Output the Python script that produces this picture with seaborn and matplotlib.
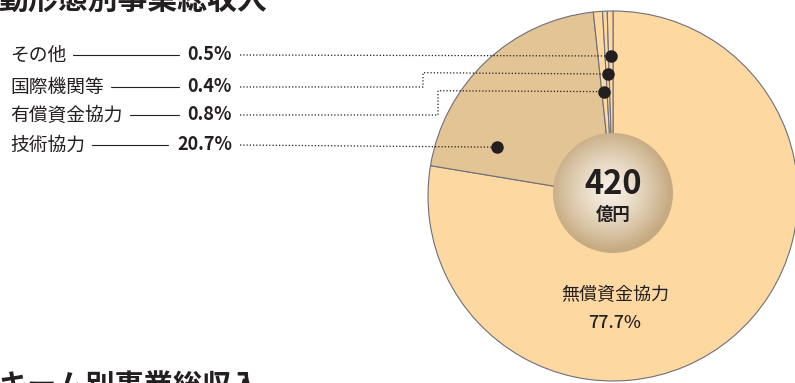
import numpy as np
import matplotlib
matplotlib.use("Agg")
import matplotlib.pyplot as plt
from matplotlib.patches import Circle
import seaborn as sns

# Revenue share by scheme (%), total 420 (億円)
categories = ["無償資金協力", "技術協力", "有償資金協力", "国際機関等", "その他"]
shares = [77.7, 20.7, 0.8, 0.4, 0.5]
total_label = "420"
total_unit = "億円"
legend_order = ["その他", "国際機関等", "有償資金協力", "技術協力"]

sns.set_theme(style="white")
plt.rcParams["font.family"] = ["Noto Sans CJK JP", "DejaVu Sans"]

W, H = 795, 383
fig = plt.figure(figsize=(W / 100, H / 100), dpi=100)
fig.patch.set_facecolor("white")
ax = fig.add_axes([0, 0, 1, 1])

def Y(y):
    return H - y

ink = "#231f20"
light = "#fdd8a1"
tan = "#e3c495"
edge = "#6e6f7c"

cx, cy, R = 613, 196, 185
colors = [light, tan, light, light, light]
wedges, _ = ax.pie(shares, startangle=90, counterclock=False, colors=colors,
                   radius=R, center=(cx, Y(cy)),
                   wedgeprops=dict(edgecolor=edge, linewidth=0.8))
ax.set_xlim(0, W)
ax.set_ylim(0, H)
ax.set_aspect("equal")
ax.axis("off")

# Center disc with a radial gradient
r0 = 60
dc = 193
gy, gx = np.mgrid[-1:1:300j, -1:1:300j]
d = np.clip(np.sqrt((gx + 0.05) ** 2 + (gy - 0.05) ** 2), 0, 1)
c_in = np.array([0.97, 0.94, 0.89])
c_out = np.array([0.78, 0.67, 0.51])
t = d[..., None] ** 1.4
img = c_in * (1 - t) + c_out * t
im = ax.imshow(img, extent=(cx - r0, cx + r0, Y(dc) - r0, Y(dc) + r0),
               origin="lower", zorder=3, interpolation="bilinear")
clip = Circle((cx, Y(dc)), r0, transform=ax.transData)
im.set_clip_path(clip)
ax.set_xlim(0, W)
ax.set_ylim(0, H)

ax.text(cx, Y(184), total_label, ha="center", va="center", fontsize=23.5,
        fontweight="bold", color=ink, zorder=4)
ax.text(cx, Y(215), total_unit, ha="center", va="center", fontsize=12.5,
        fontweight="bold", color=ink, zorder=4)

# Label for the largest slice inside the pie
share = dict(zip(categories, shares))
ax.text(615, Y(295), categories[0], ha="center", va="center", fontsize=13,
        color=ink)
ax.text(615, Y(323), f"{share[categories[0]]}%", ha="center", va="center",
        fontsize=13, fontweight="medium", color=ink)

# Leader layout: row y, elbow (x, y) or None, anchor position within wedge
rows = {
    "その他": dict(y=55, elbow=None, frac=0.5, rf=0.757),
    "国際機関等": dict(y=87, elbow=(423, 72.7), frac=0.5, rf=0.66),
    "有償資金協力": dict(y=115, elbow=(438, 90.7), frac=0.5, rf=0.566),
    "技術協力": dict(y=145, elbow=None, frac=0.82, rf=0.68),
}
wedge_of = dict(zip(categories, wedges))

fig.canvas.draw()
renderer = fig.canvas.get_renderer()
for name in legend_order:
    row = rows[name]
    y = row["y"]
    txt = ax.text(10, Y(y), name, ha="left", va="center", fontsize=13.5,
                  color=ink)
    pct = f"{share[name]}%"
    ptxt = ax.text(232, Y(y), pct, ha="right", va="center", fontsize=13,
                   fontweight="semibold", color=ink)
    bb = txt.get_window_extent(renderer)
    pb = ptxt.get_window_extent(renderer)
    ax.plot([bb.x1 + 7, pb.x0 - 9], [Y(y), Y(y)], color=ink, lw=0.8)

    w = wedge_of[name]
    ang = np.deg2rad(w.theta1 + row["frac"] * (w.theta2 - w.theta1))
    px = cx + row["rf"] * R * np.cos(ang)
    py = Y(cy) + row["rf"] * R * np.sin(ang)
    if row["elbow"] is None:
        xs, ys = [240, px], [Y(y), py]
    else:
        ex, ey = row["elbow"]
        xs = [240, ex, ex, px]
        ys = [Y(y), Y(y), Y(ey), py]
    ax.plot(xs, ys, color=ink, lw=0.9, ls=(0, (1, 1.6)), zorder=5)
    ax.plot([px], [py], "o", color=ink, ms=8, zorder=6)

# Section headings, partly outside the page area
ax.text(-2, Y(16), "動形態別事業総収入", ha="left", va="bottom", fontsize=21.5,
        fontweight="bold", color=ink, clip_on=False)
ax.text(-2, Y(371), "キーム別事業総収入", ha="left", va="top", fontsize=21,
        fontweight="bold", color=ink, clip_on=False)

fig.savefig("out.png", dpi=100, facecolor="white")
